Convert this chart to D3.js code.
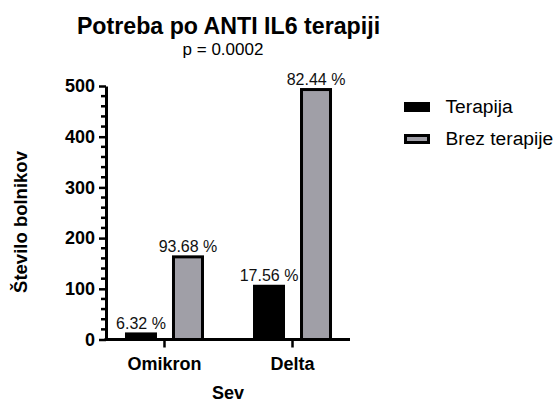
<!DOCTYPE html>
<html>
<head>
<meta charset="utf-8">
<script src="https://cdn.jsdelivr.net/npm/d3@7"></script>
<style>
  body { margin:0; background:#fff; }
  text { font-family: "Liberation Sans", Arial, sans-serif; }
</style>
</head>
<body>
<svg id="chart" width="557" height="403"></svg>
<script>
const categories = ["Omikron", "Delta"];
const series = ["Terapija", "Brez terapije"];
const terapija = [11, 105];
const brezTerapije = [163, 493];
const pctTerapija = ["6.32 %", "17.56 %"];
const pctBrez = ["93.68 %", "82.44 %"];
const yTicks = [0, 100, 200, 300, 400, 500];
const colors = {"Terapija": "#000000", "Brez terapije": "#a09fa7"};

const svg = d3.select("#chart");

// scales
const x = d3.scalePoint().domain(categories).range([106, 350]).padding(0.453);
const xs = d3.scaleBand().domain(series).range([-37.5, 38.5]).paddingInner(0.383).paddingOuter(0);
const y = d3.scaleLinear().domain([0, 500]).range([339.5, 86]);

// title
svg.append("text").attr("x", 228.5).attr("y", 34).attr("text-anchor", "middle")
  .style("font-size", "23.2px").style("font-weight", "bold").text("Potreba po ANTI IL6 terapiji");
svg.append("text").attr("x", 223).attr("y", 55).attr("text-anchor", "middle")
  .style("font-size", "17px").text("p = 0.0002");

// bars
const rows = [];
categories.forEach((c, i) => {
  rows.push({cat: c, s: "Terapija", v: terapija[i], lab: pctTerapija[i]});
  rows.push({cat: c, s: "Brez terapije", v: brezTerapije[i], lab: pctBrez[i]});
});

const g = svg.append("g");
g.selectAll("rect").data(rows).enter().append("rect")
  .attr("x", d => x(d.cat) + xs(d.s))
  .attr("y", d => y(d.v))
  .attr("width", xs.bandwidth())
  .attr("height", d => y(0) - y(d.v))
  .attr("fill", d => colors[d.s])
  .attr("stroke", "#000").attr("stroke-width", 3);

g.selectAll("text.lab").data(rows).enter().append("text")
  .attr("class", "lab")
  .attr("x", d => x(d.cat) + xs(d.s) + xs.bandwidth() / 2)
  .attr("y", d => y(d.v) - 5)
  .attr("text-anchor", "middle")
  .style("font-size", "16px").style("fill", "#111")
  .text(d => d.lab);

// y axis
const yAxis = d3.axisLeft(y).tickValues(yTicks).tickSize(7).tickPadding(4).tickSizeOuter(0);
const ya = svg.append("g").attr("transform", "translate(106,0)").call(yAxis);
ya.select(".domain").attr("stroke-width", 3);
ya.selectAll(".tick line").attr("stroke-width", 2.5);
ya.selectAll(".tick text").style("font-size", "18px").style("font-weight", "bold")
  .style("font-family", "Liberation Sans, Arial, sans-serif").attr("fill", "#000");
// minor ticks
const minor = d3.range(0, 501, 20).filter(v => v % 100 !== 0);
svg.append("g").selectAll("line").data(minor).enter().append("line")
  .attr("x1", 101).attr("x2", 106)
  .attr("y1", d => y(d)).attr("y2", d => y(d))
  .attr("stroke", "#000").attr("stroke-width", 2.5);

// x axis
const xAxis = d3.axisBottom(x).tickSize(8).tickPadding(10).tickSizeOuter(0);
const xa = svg.append("g").attr("transform", "translate(0," + y(0) + ")").call(xAxis);
xa.select(".domain").attr("d", "M104.5,0H350").attr("stroke-width", 3);
xa.selectAll(".tick line").attr("stroke-width", 2.5);
xa.selectAll(".tick text").style("font-size", "18px").style("font-weight", "bold")
  .style("font-family", "Liberation Sans, Arial, sans-serif").attr("fill", "#000");

// axis titles
svg.append("text").attr("x", 228).attr("y", 399).attr("text-anchor", "middle")
  .style("font-size", "18px").style("font-weight", "bold").text("Sev");
svg.append("text").attr("transform", "translate(27,222) rotate(-90)").attr("text-anchor", "middle")
  .style("font-size", "18.5px").style("font-weight", "bold").text("Število bolnikov");

// legend
const lg = svg.append("g").selectAll("g").data(series).enter().append("g")
  .attr("transform", (d, i) => "translate(405.5," + (103.5 + i * 32) + ")");
lg.append("rect").attr("width", 23).attr("height", 7)
  .attr("fill", d => colors[d]).attr("stroke", "#000").attr("stroke-width", 3);
lg.append("text").attr("x", 40).attr("y", 9.5).style("font-size", "19.2px").text(d => d);
</script>
</body>
</html>
